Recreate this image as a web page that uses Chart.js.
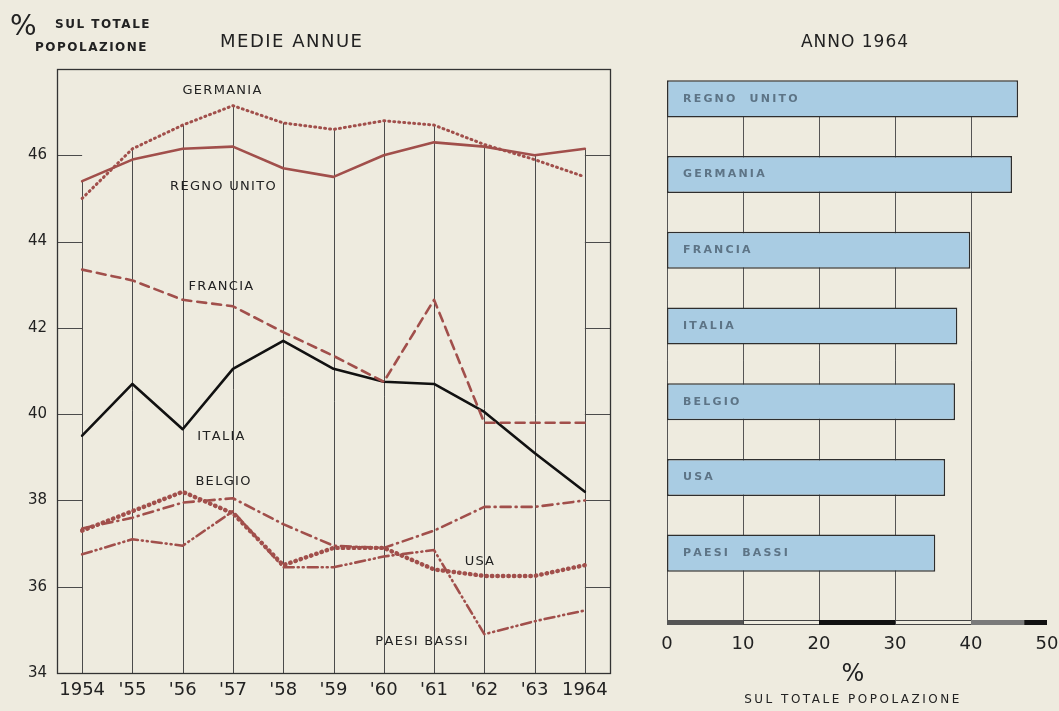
<!DOCTYPE html>
<html>
<head>
<meta charset="utf-8">
<script src="https://cdn.jsdelivr.net/npm/chart.js@4.4.1/dist/chart.umd.min.js"></script>
<style>
  body { margin: 0; background: #eeebdf; }
  #wrap { position: relative; width: 1059px; height: 711px; overflow: hidden;
          font-family: 'DejaVu Sans', sans-serif; color: #222; }
  canvas { position: absolute; top: 0; }
  .t { position: absolute; white-space: nowrap; }
  .c { transform: translateX(-50%); }
</style>
</head>
<body>
<div id="wrap">
  <canvas id="trend" width="620" height="711" style="left:0"></canvas>
  <canvas id="bars" width="439" height="711" style="left:620px"></canvas>

  <div class="t" style="left:10px;top:9px;font-size:28px;">%</div>
  <div class="t" style="left:55px;top:17px;font-size:12px;font-weight:bold;letter-spacing:1.5px;">SUL TOTALE</div>
  <div class="t" style="left:35px;top:40px;font-size:12px;font-weight:bold;letter-spacing:1.5px;">POPOLAZIONE</div>
  <div class="t" style="left:220px;top:30px;font-size:18px;letter-spacing:1.5px;">MEDIE ANNUE</div>
  <div class="t c" style="left:855px;top:31px;font-size:17px;letter-spacing:1px;">ANNO 1964</div>
  <div class="t c" style="left:853px;top:659px;font-size:24px;">%</div>
  <div class="t c" style="left:853px;top:692px;font-size:12px;letter-spacing:2.5px;">SUL TOTALE POPOLAZIONE</div>
</div>

<script>
// medie annue, % sul totale popolazione
var years = ['1954', "'55", "'56", "'57", "'58", "'59", "'60", "'61", "'62", "'63", '1964'];

var germania   = [45.0, 46.15, 46.7, 47.15, 46.75, 46.6, 46.8, 46.7, 46.25, 45.9, 45.5];
var regnoUnito = [45.4, 45.9, 46.15, 46.2, 45.7, 45.5, 46.0, 46.3, 46.2, 46.0, 46.15];
var francia    = [43.35, 43.1, 42.65, 42.5, 41.9, 41.35, 40.75, 42.65, 39.8, 39.8, 39.8];
var italia     = [39.5, 40.7, 39.65, 41.05, 41.7, 41.05, 40.75, 40.7, 40.05, 39.1, 38.2];
var belgio     = [37.35, 37.6, 37.95, 38.05, 37.45, 36.95, 36.9, 37.3, 37.85, 37.85, 38.0];
var usa        = [37.3, 37.75, 38.2, 37.7, 36.5, 36.9, 36.9, 36.4, 36.25, 36.25, 36.5];
var paesiBassi = [36.75, 37.1, 36.95, 37.75, 36.45, 36.45, 36.7, 36.85, 34.9, 35.2, 35.45];

// anno 1964
var paesi = ['REGNO  UNITO', 'GERMANIA', 'FRANCIA', 'ITALIA', 'BELGIO', 'USA', 'PAESI  BASSI'];
var quote1964 = [46.2, 45.4, 39.9, 38.2, 37.9, 36.6, 35.3];

var rosso = '#a14f4b';

function serie(label, data, color, dash, width) {
  return {
    label: label, data: data,
    borderColor: color, borderWidth: width || 2.6,
    borderDash: dash, borderCapStyle: 'round', borderJoinStyle: 'round',
    pointRadius: 0, fill: false, tension: 0
  };
}

// names written next to the curves: [x index, y value]
var nomiCurve = {
  'GERMANIA':    [2.78, 47.5],
  'REGNO UNITO': [2.8, 45.28],
  'FRANCIA':     [2.76, 42.95],
  'ITALIA':      [2.76, 39.47],
  'BELGIO':      [2.8, 38.44],
  'USA':         [7.9, 36.58],
  'PAESI BASSI': [6.75, 34.72]
};

var cornice = {
  id: 'cornice',
  beforeDatasetsDraw: function (chart) {
    var ctx = chart.ctx, a = chart.chartArea, x = chart.scales.x, y = chart.scales.y;
    ctx.save();
    ctx.strokeStyle = '#4b4b4b';
    ctx.lineWidth = 1;
    // year lines rise from the base up to the highest curve
    years.forEach(function (yr, i) {
      var top = Math.max.apply(null, chart.data.datasets.map(function (d) { return d.data[i]; }));
      var px = Math.round(x.getPixelForValue(i)) + 0.5;
      ctx.beginPath();
      ctx.moveTo(px, a.bottom);
      ctx.lineTo(px, y.getPixelForValue(top));
      ctx.stroke();
    });
    // short ticks between frame and first / last year line
    var x0 = x.getPixelForValue(0), x1 = x.getPixelForValue(years.length - 1);
    y.ticks.forEach(function (t) {
      if (t.value <= y.min || t.value >= y.max) return;
      var py = Math.round(y.getPixelForValue(t.value)) + 0.5;
      ctx.beginPath();
      ctx.moveTo(a.left, py); ctx.lineTo(x0, py);
      ctx.moveTo(x1, py); ctx.lineTo(a.right, py);
      ctx.stroke();
    });
    ctx.lineWidth = 1.3;
    ctx.strokeStyle = '#333';
    ctx.strokeRect(Math.round(a.left) + 0.5, Math.round(a.top) + 0.5, Math.round(a.width), Math.round(a.height));
    ctx.restore();
  },
  afterDatasetsDraw: function (chart) {
    var ctx = chart.ctx, x = chart.scales.x, y = chart.scales.y;
    ctx.save();
    ctx.fillStyle = '#222';
    ctx.font = '13px "DejaVu Sans"';
    ctx.textAlign = 'center';
    ctx.textBaseline = 'middle';
    Object.keys(nomiCurve).forEach(function (k) {
      var p = nomiCurve[k];
      ctx.fillText(k.split('').join(String.fromCharCode(8202)), x.getPixelForValue(p[0]), y.getPixelForValue(p[1]));
    });
    ctx.restore();
  }
};

new Chart(document.getElementById('trend').getContext('2d'), {
  type: 'line',
  data: {
    labels: years,
    datasets: [
      serie('Germania', germania, rosso, [1, 4], 3),
      serie('Regno Unito', regnoUnito, rosso, []),
      serie('Francia', francia, rosso, [9, 6]),
      serie('Italia', italia, '#111', [], 2.6),
      serie('Belgio', belgio, rosso, [10, 5, 1, 5]),
      serie('USA', usa, rosso, [0.5, 5], 4.4),
      serie('Paesi Bassi', paesiBassi, rosso, [10, 4, 1, 4, 1, 4])
    ]
  },
  plugins: [cornice],
  options: {
    responsive: false,
    animation: false,
    layout: { padding: { top: 69, right: 10, bottom: 0, left: 0 } },
    plugins: { legend: { display: false }, tooltip: { enabled: false } },
    scales: {
      x: {
        type: 'category',
        offset: true,
        grid: { display: false, drawTicks: false },
        border: { display: false },
        ticks: { color: '#222', font: { family: 'DejaVu Sans', size: 18 }, padding: 7,
                 maxRotation: 0, autoSkip: false },
        afterFit: function (s) { s.height = 38; }
      },
      y: {
        min: 34, max: 48,
        grid: { display: false, drawTicks: false },
        border: { display: false },
        ticks: {
          stepSize: 2, color: '#222', padding: 10,
          font: { family: 'DejaVu Sans', size: 15 },
          callback: function (v) { return v === 48 ? null : v; }
        },
        afterFit: function (s) { s.width = 57; }
      }
    }
  }
});

var griglia = {
  id: 'griglia',
  beforeDatasetsDraw: function (chart) {
    var ctx = chart.ctx, x = chart.scales.x, y = chart.scales.y;
    var base = chart.chartArea.bottom + 32;
    var top = y.getPixelForValue(0);
    ctx.save();
    ctx.strokeStyle = '#555';
    ctx.lineWidth = 1;
    [0, 10, 20, 30, 40].forEach(function (v) {
      var px = Math.round(x.getPixelForValue(v)) + 0.5;
      ctx.beginPath(); ctx.moveTo(px, top); ctx.lineTo(px, base); ctx.stroke();
    });
    // graduated scale bar along the base
    [[0, 10, '#555'], [10, 20, null], [20, 30, '#111'], [30, 40, null], [40, 47, '#7a7a7a'], [47, 50, '#111']]
      .forEach(function (s) {
        var l = x.getPixelForValue(s[0]), r = x.getPixelForValue(s[1]);
        if (s[2]) { ctx.fillStyle = s[2]; ctx.fillRect(l, base - 3, r - l, 5); }
        else { ctx.strokeStyle = '#444'; ctx.strokeRect(l + 0.5, base - 2.5, r - l, 4); }
      });
    ctx.restore();
  },
  afterDatasetsDraw: function (chart) {
    var ctx = chart.ctx;
    ctx.save();
    ctx.fillStyle = '#5d7486';
    ctx.font = 'bold 11px "DejaVu Sans"';
    ctx.textBaseline = 'middle';
    chart.getDatasetMeta(0).data.forEach(function (bar, i) {
      ctx.fillText(paesi[i].split('').join(String.fromCharCode(8201)), bar.base + 16, bar.y);
    });
    ctx.restore();
  }
};

new Chart(document.getElementById('bars').getContext('2d'), {
  type: 'bar',
  data: {
    labels: paesi,
    datasets: [{
      data: quote1964,
      backgroundColor: '#a9cce3',
      borderColor: '#2e2e2e',
      borderWidth: 1.5,
      borderSkipped: false,
      barPercentage: 1,
      categoryPercentage: 0.49
    }]
  },
  plugins: [griglia],
  options: {
    indexAxis: 'y',
    responsive: false,
    animation: false,
    layout: { padding: { top: 61, right: 12, bottom: 0, left: 47 } },
    plugins: { legend: { display: false }, tooltip: { enabled: false } },
    scales: {
      x: {
        min: 0, max: 50,
        grid: { display: false, drawTicks: false },
        border: { display: false },
        ticks: { stepSize: 10, color: '#222', padding: 43,
                 font: { family: 'DejaVu Sans', size: 18 } },
        afterFit: function (s) { s.height = 120; s.paddingLeft = 0; s.paddingRight = 0; }
      },
      y: { display: false }
    }
  }
});
</script>
</body>
</html>
